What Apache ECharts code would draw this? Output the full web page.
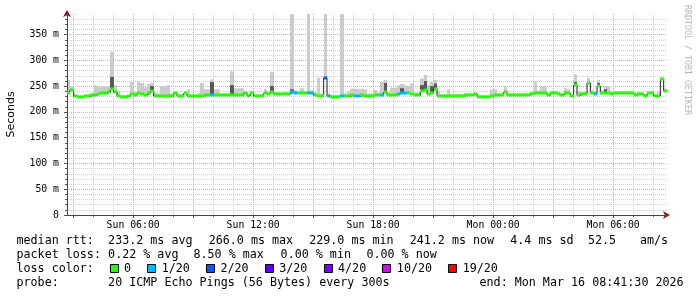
<!DOCTYPE html>
<html><head><meta charset="utf-8">
<script src="https://cdn.jsdelivr.net/npm/echarts@6/dist/echarts.min.js"></script>
<style>html,body{margin:0;padding:0;background:#fff}#c{width:697px;height:297px}</style>
</head><body><div id="c"></div>
<script>
// ---------- data ----------
const START_MIN = 2 * 60 + 41.5;    // Sun 02:41:30, minutes since Sun 00:00
const SPAN_HOURS = 30;
const BUCKET_MIN = 10;              // 10-minute buckets
const _ = null;

const median = [
  237,243,230,229,229.5,230,230,232,233,235,
  237,236,238,244,238,230,229.5,229,230,235,
  232,236,234,233,236,241,231,230.5,230.5,230.5,
  230.5,231,236,230,230,236,231,230.5,230.5,231,
  231,232,232,233,232,232,232,232,232,232,
  232,232,233,237,231,236,231,230.5,231,236,
  235,239,234.5,234.5,234.5,234.5,234.5,238,236,236,
  236,236,237,237,232,231,231,266,230.5,229.5,
  229,229.5,230.5,230,230,232,230,230,232,231,
  231,231,232,232,233,238,232,232,233,235,
  236,237,236,234,232,232,240,243,235,237,
  245,231,230.5,230.5,230.5,230.5,230.5,230.5,230.5,232,
  232,232,235,229.5,229,229.5,229.5,231,232,232,
  232,238,232,232,232,232,232,233,233,235,
  236,236,236,236,232,237,237,234,233,236,
  236,231,252,232,234.5,235,256,237,235,250,
  237,237,236,235,237,237,237,237,237,236,
  233,235,234,231,236,236,231,231,264,241
];
const loss = [
  0,0,0,0,0,0,0,0,0,0,
  0,0,0,0,0,0,0,0,0,0,
  0,0,0,0,0,0,0,0,0,0,
  0,0,0,0,0,0,0,0,0,0,
  0,0,0,1,0,0,0,0,0,0,
  0,0,0,0,0,0,0,0,0,0,
  0,0,0,0,0,0,0,1,1,0,
  0,0,1,1,0,0,0,2,1,0,
  0,0,1,0,0,0,1,1,0,0,
  0,0,0,0,1,0,0,0,0,1,
  1,1,0,0,0,0,0,0,0,0,
  0,0,0,0,0,0,0,0,0,0,
  0,0,0,0,0,0,0,0,0,0,
  0,0,0,0,0,0,0,0,0,0,
  0,0,0,0,0,0,0,0,0,0,
  0,0,0,0,0,0,0,0,1,0,
  0,0,0,0,0,0,0,0,0,0,
  0,0,0,0,0,0,0,0,0,0
];
const smokeTop = [
  262,250,233,232,232,233,233,236,252,250,
  249,249,250,317,252,240,233,232,233,258,
  240,258,256,248,254,256,238,236,250,250,
  252,236,240,234,234,240,244,234,234,236,
  256,244,244,263,244,244,236,236,236,279,
  246,246,246,240,235,240,234,234,234,244,
  240,278,238,238,238,238,240,390,242,240,
  246,240,390,242,238,266,236,390,236,233,
  233,233,390,236,240,245,245,245,245,244,
  236,236,243,238,258,262,238,247,247,252,
  254,252,250,255,238,238,265,272,252,258,
  262,240,234,234,244,234,234,234,234,236,
  236,236,238,233,233,233,233,244,244,236,
  236,250,236,236,236,236,236,237,237,240,
  259,242,250,250,236,240,240,238,237,246,
  244,234,273,240,238,240,266,242,240,262,
  242,250,250,240,240,240,240,240,240,240,
  236,238,238,234,240,240,234,239,266,245
];
const smokeCore = [
  _,_,_,_,_,_,_,_,_,_,
  _,_,_,268,_,_,_,_,_,_,
  _,_,_,_,_,250,_,_,_,_,
  _,_,_,_,_,_,_,_,_,_,
  _,_,_,258,_,_,_,_,_,252,
  _,_,_,_,_,_,_,_,_,_,
  _,250,_,_,_,_,_,244,_,_,
  _,_,_,_,_,_,_,268,_,_,
  _,_,_,_,_,_,_,_,_,_,
  _,_,_,_,_,256,_,_,_,_,
  246,_,_,_,_,_,252,260,_,250,
  255,_,_,_,_,_,_,_,_,_,
  _,_,_,_,_,_,_,_,_,_,
  _,_,_,_,_,_,_,_,_,_,
  _,_,_,_,_,_,_,_,_,_,
  _,_,258,_,_,_,256,_,_,256,
  _,244,_,_,_,_,_,_,_,_,
  _,_,_,_,_,_,_,_,_,_
];
const lossLabels = ['0','1/20','2/20','3/20','4/20','10/20','19/20'];
const lossLevels = [0,1,2,3,4,10,19];
const lossColors = ['#26ff00','#00b8ff','#0059ff','#5e00ff','#7e00ff','#dd00ff','#ff0000'];
const rttStats = ['233.2 ms avg','266.0 ms max','229.0 ms min','241.2 ms now','4.4 ms sd','52.5','am/s'];
const lossStats = ['0.22 % avg','8.50 % max','0.00 % min','0.00 % now'];
const probeText = '20 ICMP Echo Pings (56 Bytes) every 300s';
const endText = 'end: Mon Mar 16 08:41:30 2026';
const yAxisTitle = 'Seconds';
const watermark = 'RRDTOOL / TOBI OETIKER';

// ---------- build ----------
// category axis: one slot every 30 s from the start
const SLOT_MIN = 0.5;
const NSLOT = SPAN_HOURS * 60 / SLOT_MIN;
const pad = n => String(n).padStart(2, '0');
const slotMinutes = k => START_MIN + k * SLOT_MIN;
const categories = Array.from({ length: NSLOT + 1 }, (u, k) => {
  const m = slotMinutes(k), day = m < 1440 ? 'Sun' : 'Mon', mm = m % 1440;
  return day + ' ' + pad(Math.floor(mm / 60)) + ':' + pad(Math.floor(mm % 60)) + ':' + (mm % 1 ? '30' : '00');
});
const onEvery = mins => (idx) => slotMinutes(idx) % mins === 0;
const SPB = BUCKET_MIN / SLOT_MIN;   // slots per bucket
const mid = i => i * SPB + SPB / 2;

const lossColor = l => { for (let j = 0; j < lossLevels.length; j++) if (l <= lossLevels[j]) return lossColors[j]; return lossColors[lossColors.length-1]; };
const smokeData = median.map((m, i) => [mid(i), m, smokeTop[i]]);
const coreData = [];
smokeCore.forEach((c, i) => { if (c != null) coreData.push([mid(i), median[i], c]); });
const bandData = median.map((m, i) => [mid(i), m, loss[i]]);
const lineData = median.map((m, i) => [mid(i), m]);

function xEdges(api, c, v) {
  const a = api.coord([c - SPB / 2, v]), b = api.coord([c + SPB / 2, v]);
  return [Math.round(a[0]), Math.round(b[0]), a[1]];
}
function renderSmoke(color) {
  return (params, api) => {
    const c = api.value(0);
    const [x0, x1, yHi] = xEdges(api, c, api.value(2));
    const yLo = api.coord([c, api.value(1)])[1];
    return { type: 'rect', shape: { x: x0, y: yHi, width: x1 - x0, height: yLo - yHi }, style: { fill: color } };
  };
}
function renderBand(params, api) {
  const [x0, x1, y] = xEdges(api, api.value(0), api.value(1));
  return { type: 'rect', shape: { x: x0, y: Math.round(y) - 1.5, width: x1 - x0, height: 3 },
           style: { fill: lossColor(api.value(2)) } };
}

const MONO = 'DejaVu Sans Mono';
const gridMinor = { color: '#cfcfcf', type: [1, 1], width: 1 };
const gridMajor = { color: '#e6a0a0', type: [1, 1], width: 1 };
const catAxis = extra => Object.assign({ type: 'category', data: categories, boundaryGap: false, position: 'bottom' }, extra);

const option = {
  animation: false,
  backgroundColor: '#fff',
  grid: { left: 67, right: 30, top: 14, bottom: 82, containLabel: false, outerBoundsMode: 'none' },
  xAxis: [
    catAxis({ z: 0, axisLine: { show: false }, axisLabel: { show: false },
      axisTick: { show: true, length: 2, interval: onEvery(60), lineStyle: { color: '#555' } },
      splitLine: { show: true, interval: onEvery(60), lineStyle: gridMinor } }),
    catAxis({ z: 1,
      axisLine: { show: true, symbol: ['none', 'arrow'], symbolSize: [6, 7], symbolOffset: [0, 3],
                  lineStyle: { color: '#8b1a1a', width: 1 } },
      axisTick: { show: true, length: 3, interval: onEvery(180), lineStyle: { color: '#555' } },
      axisLabel: { show: true, interval: onEvery(360), formatter: v => v.slice(0, 9),
                   margin: 5, fontFamily: MONO, fontSize: 9.8, color: '#000' },
      splitLine: { show: true, interval: onEvery(180), lineStyle: gridMajor } }),
    catAxis({ z: 2, axisLine: { show: true, lineStyle: { color: '#444', width: 1 } },
      axisTick: { show: false }, axisLabel: { show: false }, splitLine: { show: false } })
  ],
  yAxis: [
    { type: 'value', min: 0, max: 390, interval: 10, position: 'left', z: 0,
      axisLine: { show: false }, axisLabel: { show: false },
      axisTick: { show: true, length: 2, lineStyle: { color: '#555' } },
      splitLine: { show: true, showMinLine: false, showMaxLine: false, lineStyle: gridMinor } },
    { type: 'value', min: 0, max: 390, interval: 50, position: 'left', z: 1,
      name: yAxisTitle, nameLocation: 'middle', nameGap: 50.5,
      nameTextStyle: { fontFamily: 'DejaVu Sans', fontSize: 11, color: '#000' },
      axisLine: { show: true, symbol: ['none', 'arrow'], symbolSize: [6, 7], symbolOffset: [0, 4],
                  lineStyle: { color: '#8b1a1a', width: 1 } },
      axisTick: { show: true, length: 3, lineStyle: { color: '#555' } },
      axisLabel: { show: true, showMaxLabel: false, margin: 8, fontFamily: MONO, fontSize: 9.8, color: '#000',
                   formatter: v => (v === 0 ? '0' : v + ' m') },
      splitLine: { show: true, showMinLine: false, showMaxLine: false, lineStyle: gridMajor } },
    { type: 'value', min: 0, max: 390, interval: 50, position: 'left', z: 2,
      axisLine: { show: true, lineStyle: { color: '#444', width: 1 } },
      axisTick: { show: false }, axisLabel: { show: false }, splitLine: { show: false } }
  ],
  series: [
    { type: 'custom', xAxisIndex: 1, yAxisIndex: 1, z: 2, clip: true, silent: true,
      renderItem: renderSmoke('#cbcbcb'), data: smokeData, encode: { x: 0, y: [1, 2] } },
    { type: 'custom', xAxisIndex: 1, yAxisIndex: 1, z: 3, clip: true, silent: true,
      renderItem: renderSmoke('#5a5a5a'), data: coreData, encode: { x: 0, y: [1, 2] } },
    { type: 'line', xAxisIndex: 1, yAxisIndex: 1, z: 4, step: 'middle', symbol: 'none', silent: true,
      lineStyle: { color: '#202020', width: 1 }, data: lineData },
    { type: 'custom', xAxisIndex: 1, yAxisIndex: 1, z: 5, clip: true, silent: true,
      renderItem: renderBand, data: bandData, encode: { x: 0, y: 1 } }
  ],
  graphic: []
};

// legend / stats text
const G = option.graphic;
const txt = (x, y, s, extra) => G.push(Object.assign({ type: 'text', x, y,
  style: Object.assign({ text: s, fontFamily: MONO, fontSize: 11.7, fill: '#000', textVerticalAlign: 'middle' }, extra || {}) }));
const ROW = [241, 255, 269, 283];
const COL0 = 16.5;
txt(COL0, ROW[0], 'median rtt:');
[108.1, 208.7, 309.2, 409.7, 510.3, 588, 639.9].forEach((x, i) => txt(x, ROW[0], rttStats[i]));
txt(COL0, ROW[1], 'packet loss:');
[108.1, 193.5, 280.6, 366.4].forEach((x, i) => txt(x, ROW[1], lossStats[i]));
txt(COL0, ROW[2], 'loss color:');
let bx = 109.5;
lossLabels.forEach((lab, i) => {
  G.push({ type: 'rect', shape: { x: Math.round(bx) + 0.5, y: ROW[2] - 4.5, width: 8, height: 8 },
           style: { fill: lossColors[i], stroke: '#000', lineWidth: 1 } });
  txt(bx + 14.5, ROW[2], lab);
  bx += 16.5 + (lab.length + 2) * 7.05;
});
txt(COL0, ROW[3], 'probe:');
txt(108.1, ROW[3], probeText);
txt(683.6, ROW[3], endText, { textAlign: 'right' });
G.push({ type: 'text', x: 687, y: 5, rotation: -Math.PI / 2,
  style: { text: watermark, fontFamily: MONO, fontSize: 8.3, fill: '#b8b8b8', textAlign: 'left', textVerticalAlign: 'middle' } });

const chart = echarts.init(document.getElementById('c'), null, { renderer: 'canvas' });
chart.setOption(option);
</script>
</body></html>
